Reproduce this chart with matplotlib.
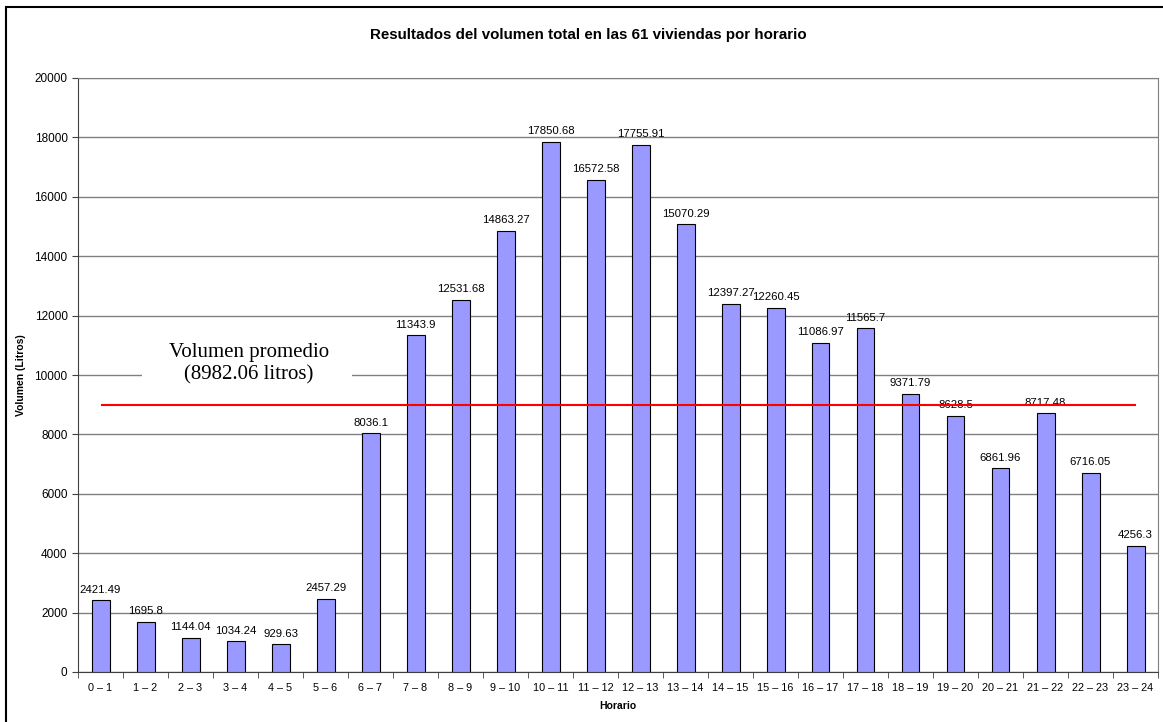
import numpy as np
import matplotlib
matplotlib.use('Agg')
import matplotlib.pyplot as plt
from matplotlib.patches import Rectangle

# datos
horarios = ['0 – 1', '1 – 2', '2 – 3', '3 – 4', '4 – 5', '5 – 6', '6 – 7', '7 – 8',
            '8 – 9', '9 – 10', '10 – 11', '11 – 12', '12 – 13', '13 – 14', '14 – 15',
            '15 – 16', '16 – 17', '17 – 18', '18 – 19', '19 – 20', '20 – 21',
            '21 – 22', '22 – 23', '23 – 24']
volumen = [2421.49, 1695.8, 1144.04, 1034.24, 929.63, 2457.29, 8036.1, 11343.9,
           12531.68, 14863.27, 17850.68, 16572.58, 17755.91, 15070.29, 12397.27,
           12260.45, 11086.97, 11565.7, 9371.79, 8628.5, 6861.96, 8717.48,
           6716.05, 4256.3]
promedio = 8982.06
y_ticks = list(range(0, 20001, 2000))

plt.rcParams['font.family'] = ['Liberation Sans', 'DejaVu Sans']

fig = plt.figure(figsize=(11.63, 7.22), dpi=100)
ax = fig.add_axes([78 / 1163, 1 - 672 / 722, 1080 / 1163, 594 / 722])

# marco exterior
fig.patches.append(Rectangle((6 / 1163, -0.01), 1.02, 1 - 7 / 722 + 0.01,
                             transform=fig.transFigure, fill=False,
                             edgecolor='black', linewidth=1.5))

x = np.arange(len(horarios))
ax.bar(x, volumen, width=0.4, color='#9999FF', edgecolor='black', linewidth=0.8, zorder=3)
for xi, v in zip(x, volumen):
    ax.annotate(str(v), (xi, v), xytext=(0, 4), textcoords='offset points',
                ha='center', va='bottom', fontsize=8.2, zorder=4)

ax.hlines(promedio, 0, len(horarios) - 1, color='red', linewidth=1.5, zorder=4)
# fondo blanco del texto del promedio
ax.add_patch(Rectangle((0.92, 9500), 4.67, 1500, facecolor='white',
                       edgecolor='none', zorder=2))
ax.text(3.3, 10370, 'Volumen promedio\n(8982.06 litros)', ha='center', va='center',
        fontsize=15, family='Liberation Serif', linespacing=1.25, zorder=4)

ax.set_xlim(-0.5, len(horarios) - 0.5)
ax.set_ylim(0, 20000)
ax.set_yticks(y_ticks)
ax.yaxis.grid(True, color='#808080', linewidth=1, zorder=0)
ax.set_xticks(x)
ax.set_xticklabels(horarios, fontsize=7.8)
ax.set_xticks(np.arange(-0.5, len(horarios)), minor=True)
ax.tick_params(axis='x', which='major', length=0, pad=8)
ax.tick_params(axis='x', which='minor', length=4, color='#404040')
ax.tick_params(axis='y', labelsize=8.5, length=4, color='#404040')

for s in ['top', 'right']:
    ax.spines[s].set_color('#808080')
for s in ['left', 'bottom']:
    ax.spines[s].set_color('#404040')

fig.text(588 / 1163, 1 - 35 / 722,
         'Resultados del volumen total en las 61 viviendas por horario',
         fontsize=10.9, fontweight='bold', ha='center', va='center')
ax.set_xlabel('Horario', fontsize=7.5, fontweight='bold', labelpad=6)
ax.set_ylabel('Volumen (Litros)', fontsize=7.5, fontweight='bold', labelpad=6)

fig.savefig('out.png', dpi=100)
